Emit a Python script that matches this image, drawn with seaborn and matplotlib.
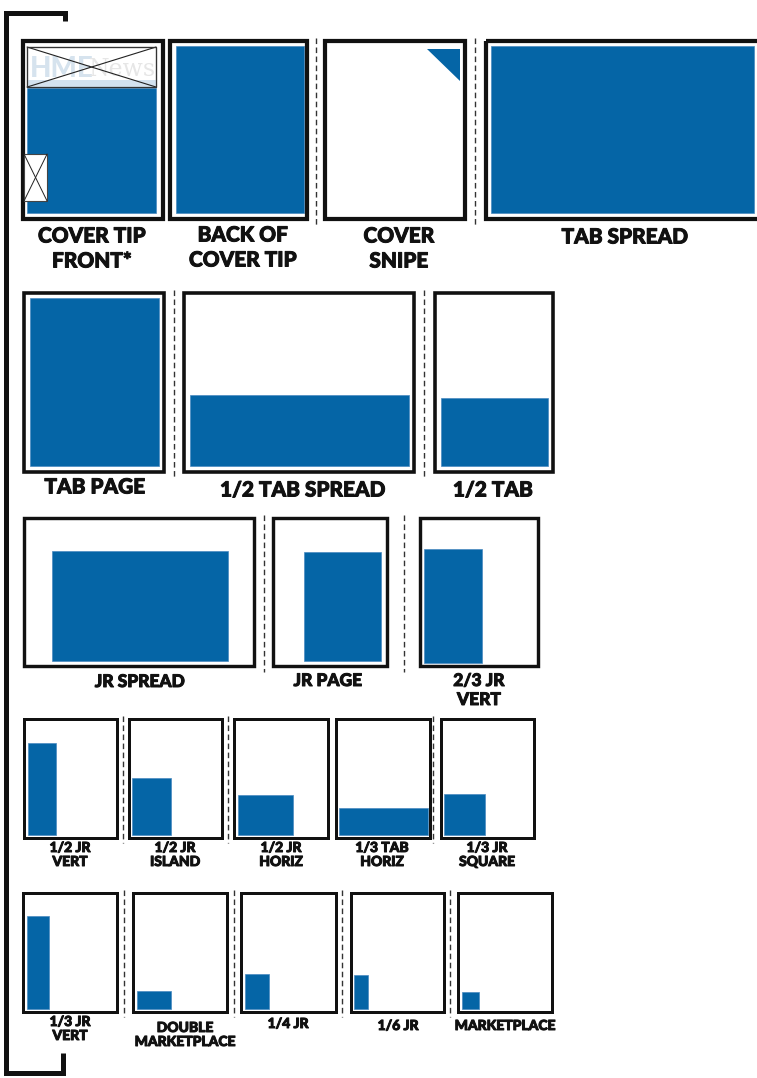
import matplotlib
matplotlib.use("Agg")
import matplotlib.pyplot as plt
import matplotlib.patheffects as pe
from matplotlib.patches import Rectangle, Polygon
import seaborn as sns

sns.set_theme(style="white")
plt.rcParams['font.family'] = ['Lato', 'DejaVu Sans']

BLUE = '#0565a6'
INK = '#111111'

# ---- ad units, row by row ----
row1_labels = ["COVER TIP\nFRONT*", "BACK OF\nCOVER TIP", "COVER\nSNIPE", "TAB SPREAD"]
row2_labels = ["TAB PAGE", "1/2 TAB SPREAD", "1/2 TAB"]
row3_labels = ["JR SPREAD", "JR PAGE", "2/3 JR\nVERT"]
row4_labels = ["1/2 JR\nVERT", "1/2 JR\nISLAND", "1/2 JR\nHORIZ", "1/3 TAB\nHORIZ", "1/3 JR\nSQUARE"]
row5_labels = ["1/3 JR\nVERT", "DOUBLE\nMARKETPLACE", "1/4 JR", "1/6 JR", "MARKETPLACE"]

# ad area as a share of its page: left, top, width, height
row1_ads = [(0.042, 0.269, 0.896, 0.687), (0.057, 0.038, 0.908, 0.918),
            (0.722, 0.055, 0.229, 0.176), (0.025, 0.038, 0.936, 0.918)]
row2_ads = [(0.056, 0.038, 0.896, 0.918), (0.034, 0.568, 0.936, 0.388),
            (0.066, 0.585, 0.877, 0.372)]
row3_ads = [(0.127, 0.230, 0.755, 0.722), (0.276, 0.240, 0.658, 0.716),
            (0.049, 0.219, 0.478, 0.748)]
row4_ads = [(0.063, 0.210, 0.289, 0.754), (0.055, 0.503, 0.405, 0.461),
            (0.058, 0.642, 0.571, 0.322), (0.056, 0.749, 0.914, 0.215),
            (0.056, 0.634, 0.418, 0.330)]
row5_ads = [(0.061, 0.206, 0.228, 0.760), (0.061, 0.817, 0.349, 0.149),
            (0.057, 0.684, 0.248, 0.282), (0.057, 0.690, 0.136, 0.276),
            (0.060, 0.825, 0.174, 0.141)]

# ---- layout (pixels) ----
rows = [
    dict(labels=row1_labels, ads=row1_ads,
         frames=[(21, 165), (168, 309), (323, 467), (484, 765)], y=(39, 221),
         lw=4.2, dividers=[316, 475], label_x=[92, 243, 399, 625],
         label_y=[236, 235, 236, 237], step=25, size=15),
    dict(labels=row2_labels, ads=row2_ads,
         frames=[(22, 166), (182, 416), (433, 555)], y=(291, 474),
         lw=3.6, dividers=[174, 424], label_x=[95, 303, 493],
         label_y=[487, 490, 490], step=25, size=15),
    dict(labels=row3_labels, ads=row3_ads,
         frames=[(22, 256), (271, 389), (418, 540)], y=(516, 668),
         lw=3.4, dividers=[264, 404], label_x=[140, 328, 479],
         label_y=[682, 681, 681], step=19, size=12.5),
    dict(labels=row4_labels, ads=row4_ads,
         frames=[(22, 118), (127, 223), (232, 329), (334, 431), (439, 535)], y=(717, 839),
         lw=3.0, dividers=[123, 228, 433], label_x=[70, 175, 281, 382, 487],
         label_y=[848, 848, 848, 848, 848], step=14, size=10),
    dict(labels=row5_labels, ads=row5_ads,
         frames=[(21, 118), (131, 228), (239, 337), (349, 445), (456, 553)], y=(891, 1013),
         lw=3.0, dividers=[124, 234, 342, 450], label_x=[70, 185, 288, 398, 505],
         label_y=[1022, 1028, 1024, 1026, 1026], step=14, size=10),
]

W, H = 757, 1078
fig = plt.figure(figsize=(W / 100, H / 100), dpi=100)
ax = fig.add_axes([0, 0, 1, 1])
ax.set_xlim(0, W)
ax.set_ylim(H, 0)
ax.axis('off')

px = 72 / 100  # pixels -> points
heavy = [pe.withStroke(linewidth=0.7, foreground=INK)]

for row in rows:
    y0, y1 = row['y']
    lw = row['lw']
    for i, (label, ad, (x0, x1)) in enumerate(zip(row['labels'], row['ads'], row['frames'])):
        fw, fh = x1 - x0, y1 - y0
        left, top, aw, ah = ad
        if label == "COVER\nSNIPE":
            ax.add_patch(Polygon([(x0 + left * fw, y0 + top * fh),
                                  (x0 + (left + aw) * fw, y0 + top * fh),
                                  (x0 + (left + aw) * fw, y0 + (top + ah) * fh)],
                                 closed=True, facecolor=BLUE, edgecolor='none', zorder=2))
        else:
            ax.add_patch(Rectangle((x0 + left * fw, y0 + top * fh), aw * fw, ah * fh,
                                   facecolor=BLUE, edgecolor='#4a8ac0', lw=0.5, zorder=2))
        # page outline
        ax.add_patch(Rectangle((x0 + lw / 2, y0 + lw / 2), fw - lw, fh - lw,
                               facecolor='none', edgecolor=INK, lw=lw * px,
                               joinstyle='miter', zorder=3))
        if label == "COVER TIP\nFRONT*":
            # masthead block with watermark
            mx0, mx1 = x0 + 0.042 * fw, x0 + 0.938 * fw
            my0, my1 = y0 + 0.044 * fh, y0 + 0.264 * fh
            ax.add_patch(Rectangle((mx0, my0), mx1 - mx0, my1 - my0,
                                   facecolor='white', edgecolor='#333333', lw=0.8, zorder=4))
            ax.add_patch(Rectangle((mx0, my1 - 7), mx1 - mx0, 7,
                                   facecolor='#d3e2ef', edgecolor='none', zorder=4))
            ax.text(mx0 + 3, (my0 + my1) / 2 + 2, "HME", color='#d6e3ee', fontsize=20,
                    fontweight='black', va='center', ha='left', zorder=5)
            ax.text(mx0 + 62, (my0 + my1) / 2 + 2, "News", color='#e6e6e6', fontsize=17,
                    family='DejaVu Serif', va='center', ha='left', zorder=5)
            ax.plot([mx0, mx1], [my0, my1], color='#222222', lw=0.8, zorder=6)
            ax.plot([mx0, mx1], [my1, my0], color='#222222', lw=0.8, zorder=6)
            ax.add_patch(Rectangle((mx0, my0), mx1 - mx0, my1 - my0,
                                   facecolor='none', edgecolor='#333333', lw=0.9, zorder=6))
            # small corner block
            sx0, sx1 = x0 + 0.021 * fw, x0 + 0.181 * fw
            sy0, sy1 = y0 + 0.632 * fh, y0 + 0.89 * fh
            ax.add_patch(Rectangle((sx0, sy0), sx1 - sx0, sy1 - sy0,
                                   facecolor='white', edgecolor='#444444', lw=0.8, zorder=4))
            ax.plot([sx0, sx1], [sy0, sy1], color='#222222', lw=0.7, zorder=5)
            ax.plot([sx0, sx1], [sy1, sy0], color='#222222', lw=0.7, zorder=5)
        # label
        for k, line in enumerate(label.split("\n")):
            ax.text(row['label_x'][i], row['label_y'][i] + k * row['step'], line,
                    ha='center', va='center', fontsize=row['size'], fontweight='black',
                    color=INK, zorder=5, path_effects=heavy)
    for dx in row['dividers']:
        ax.plot([dx, dx], [y0 - 1, y1 + 4], color='#333333', lw=1.0,
                dashes=(4, 2.5), zorder=1)

# bracket on the left
ax.plot([65, 65, 5.5, 5.5, 63, 63], [21, 12.5, 12.5, 1073, 1073, 1053],
        color=INK, lw=5 * px, solid_joinstyle='miter', solid_capstyle='butt', zorder=3)

fig.savefig('out.png', dpi=100)
